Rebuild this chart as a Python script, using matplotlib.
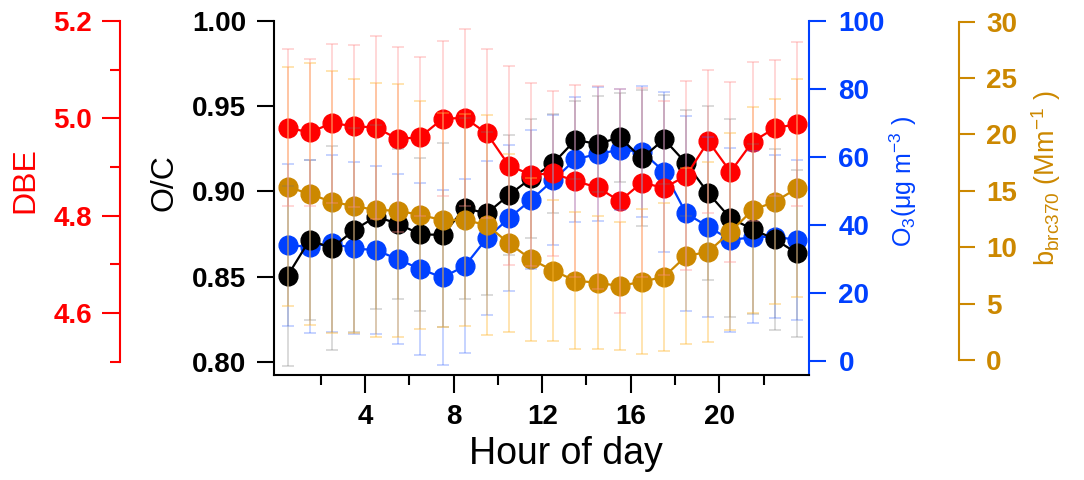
import matplotlib
matplotlib.use('Agg')
import matplotlib.pyplot as plt

plt.rcParams['font.family'] = ['Liberation Sans', 'DejaVu Sans']
plt.rcParams['mathtext.fontset'] = 'custom'
plt.rcParams['mathtext.rm'] = 'Liberation Sans'
plt.rcParams['mathtext.it'] = 'Liberation Sans:italic'
plt.rcParams['mathtext.bf'] = 'Liberation Sans:bold'

# ---------------- data ----------------
hours = [0.5, 1.5, 2.5, 3.5, 4.5, 5.5, 6.5, 7.5, 8.5, 9.5, 10.5, 11.5,
         12.5, 13.5, 14.5, 15.5, 16.5, 17.5, 18.5, 19.5, 20.5, 21.5, 22.5, 23.5]

oc = [0.8504, 0.8715, 0.8666, 0.8773, 0.8852, 0.8809, 0.8748, 0.8744, 0.8901, 0.8871, 0.8979, 0.9077,
      0.9165, 0.9302, 0.9278, 0.9317, 0.9194, 0.9306, 0.9165, 0.8989, 0.8842, 0.8778, 0.8719, 0.8637]
oc_sd = [0.053, 0.047, 0.060, 0.060, 0.054, 0.044, 0.045, 0.054, 0.053, 0.048, 0.035, 0.035,
         0.029, 0.023, 0.028, 0.026, 0.040, 0.026, 0.031, 0.051, 0.058, 0.050, 0.053, 0.049]

dbe = [4.981, 4.971, 4.990, 4.984, 4.981, 4.957, 4.962, 4.999, 5.001, 4.969, 4.903, 4.884,
       4.887, 4.871, 4.858, 4.830, 4.868, 4.857, 4.882, 4.953, 4.890, 4.952, 4.980, 4.988]
dbe_sd = [0.161, 0.151, 0.163, 0.166, 0.188, 0.190, 0.163, 0.159, 0.182, 0.173, 0.205, 0.188,
          0.169, 0.197, 0.208, 0.230, 0.195, 0.178, 0.194, 0.147, 0.185, 0.163, 0.140, 0.168]

o3 = [34.1, 33.6, 34.6, 33.1, 32.6, 29.9, 27.0, 24.6, 27.9, 36.1, 42.0, 47.4,
      53.2, 59.3, 60.9, 62.1, 61.6, 55.7, 43.4, 39.5, 35.6, 36.4, 36.6, 35.6]
o3_sd = [23.8, 25.5, 26.0, 25.3, 24.8, 25.0, 25.3, 25.7, 25.5, 22.7, 21.4, 20.4,
         19.1, 18.4, 19.8, 17.8, 19.3, 23.5, 28.7, 26.5, 27.0, 25.3, 24.1, 23.5]

bbrc = [15.36, 14.72, 14.03, 13.65, 13.30, 13.24, 12.85, 12.41, 12.41, 11.97, 10.35, 8.93,
        7.92, 7.03, 6.85, 6.56, 6.94, 7.38, 9.22, 9.60, 11.37, 13.30, 14.03, 15.22]
bbrc_sd = [10.58, 11.59, 11.64, 11.23, 11.23, 11.23, 10.14, 9.46, 9.37, 9.75, 7.89, 7.24,
           6.27, 6.06, 5.88, 5.65, 6.41, 6.56, 7.80, 7.98, 8.72, 9.10, 9.07, 9.66]

x_major = [4, 8, 12, 16, 20]
x_minor = [2, 6, 10, 14, 18, 22]
oc_ticks = [0.80, 0.85, 0.90, 0.95, 1.00]
dbe_ticks = [4.6, 4.8, 5.0, 5.2]
dbe_minor = [4.5, 4.7, 4.9, 5.1]
o3_ticks = [0, 20, 40, 60, 80, 100]
bbrc_ticks = [0, 5, 10, 15, 20, 25, 30]

# ---------------- style ----------------
RED = '#FF0000'
BLACK = '#000000'
BLUE = '#0040FF'
BROWN = '#CC8800'
ERR = {'red': (1.0, 0.55, 0.55, 0.40), 'black': (0.45, 0.45, 0.45, 0.30),
       'blue': (0.25, 0.42, 1.0, 0.35), 'brown': (1.0, 0.72, 0.20, 0.45)}

W, H = 1084, 480
L, R, T, B = 274, 809.3, 21, 375
fig = plt.figure(figsize=(W / 100, H / 100), dpi=100)
fig.patch.set_facecolor('white')
ax = fig.add_axes([L / W, 1 - B / H, (R - L) / W, (B - T) / H])
ax_blue = ax.twinx()
ax_brown = ax.twinx()
ax_red = ax.twinx()

XLIM = (-0.11, 24.06)
YL_OC = (0.7922, 1.0)
YL_DBE = (4.4726, 5.2)
YL_O3 = (-4.12, 100.0)
YL_B = (-1.33, 30.06)

ax.set_xlim(*XLIM)
for a in (ax, ax_blue, ax_brown, ax_red):
    a.patch.set_visible(False)
    for s in a.spines.values():
        s.set_visible(False)
        s.set_linewidth(1.5)

ax.set_zorder(2)
ax_blue.set_zorder(1)
ax_brown.set_zorder(3)
ax_red.set_zorder(4)

MS = 13.5
LW = 1.6

# main: O/C
ax.set_ylim(*YL_OC)
ax.plot(hours, oc, '-o', color=BLACK, ms=MS, lw=LW, mec=BLACK, zorder=3)
ax.spines['left'].set_visible(True)
ax.spines['bottom'].set_visible(True)
ax.set_yticks(oc_ticks, ['%.2f' % v for v in oc_ticks], fontsize=20, fontweight='bold')
ax.tick_params(axis='y', length=12, width=1.5, pad=8)
ax.set_xticks(x_major, [str(v) for v in x_major], fontsize=20, fontweight='bold')
ax.set_xticks(x_minor, minor=True)
ax.tick_params(axis='x', which='major', length=13, width=1.5, pad=8)
ax.tick_params(axis='x', which='minor', length=7.2, width=1.5)

# blue: O3
ax_blue.set_ylim(*YL_O3)
ax_blue.plot(hours, o3, '-o', color=BLUE, ms=MS, lw=LW, mec=BLUE, zorder=3)
ax_blue.spines['right'].set_visible(True)
ax_blue.spines['right'].set_color(BLUE)
ax_blue.set_yticks(o3_ticks, [str(v) for v in o3_ticks], fontsize=20, fontweight='bold', color=BLUE)
ax_blue.tick_params(axis='y', length=12, width=1.5, pad=9, color=BLUE)

# brown: b_brc370
ax_brown.set_ylim(*YL_B)
ax_brown.plot(hours, bbrc, '-o', color=BROWN, ms=MS, lw=LW, mec=BROWN, zorder=3)
sp = ax_brown.spines['right']
sp.set_visible(True)
sp.set_position(('axes', (959 - L) / (R - L)))
sp.set_color(BROWN)
sp.set_bounds(0, 30)
ax_brown.set_yticks(bbrc_ticks, [str(v) for v in bbrc_ticks], fontsize=20, fontweight='bold', color=BROWN)
ax_brown.tick_params(axis='y', length=11.5, width=1.5, pad=8, color=BROWN)

# red: DBE
ax_red.set_ylim(*YL_DBE)
ax_red.plot(hours, dbe, '-o', color=RED, ms=MS, lw=LW, mec=RED, zorder=3)
sp = ax_red.spines['left']
sp.set_visible(True)
sp.set_position(('axes', (120 - L) / (R - L)))
sp.set_color(RED)
sp.set_bounds(4.5, 5.2)
ax_red.yaxis.set_ticks_position('left')
ax_red.yaxis.set_label_position('left')
ax_red.set_yticks(dbe_ticks, ['%.1f' % v for v in dbe_ticks], fontsize=20, fontweight='bold', color=RED)
ax_red.set_yticks(dbe_minor, minor=True)
ax_red.tick_params(axis='y', which='major', length=13, width=1.5, pad=7, color=RED)
ax_red.tick_params(axis='y', which='minor', length=7, width=1.5, color=RED)

# error bars on overlay axes (drawn above all markers)
for vals, sds, ylim, key in [(o3, o3_sd, YL_O3, 'blue'), (oc, oc_sd, YL_OC, 'black'),
                             (bbrc, bbrc_sd, YL_B, 'brown'), (dbe, dbe_sd, YL_DBE, 'red')]:
    ae = ax.twinx()
    ae.set_zorder(6)
    ae.patch.set_visible(False)
    ae.set_ylim(*ylim)
    ae.axis('off')
    ae.errorbar(hours, vals, yerr=sds, fmt='none', ecolor=ERR[key], elinewidth=1.2,
                capsize=4.5, capthick=1.2)
    ae.set_ylim(*ylim)

ax.set_xlim(*XLIM)

# axis titles
fig.text(25 / W, 1 - 180 / H, 'DBE', color=RED, fontsize=23, rotation=90, ha='center', va='center')
fig.text(165 / W, 1 - 182.5 / H, 'O/C', color=BLACK, fontsize=23, rotation=90, ha='center', va='center')
fig.text(903.5 / W, 1 - 181.5 / H, 'O$_3$(μg m$^{-3}$ )', color=BLUE, fontsize=18, rotation=90,
         ha='center', va='center')
fig.text(1046 / W, 1 - 178.5 / H, 'b$_{\\mathrm{brc370}}$ (Mm$^{-1}$ )', color=BROWN, fontsize=19.5,
         rotation=90, ha='center', va='center')
fig.text(566 / W, 1 - 453.8 / H, 'Hour of day', color=BLACK, fontsize=27, ha='center', va='center')

fig.savefig('out.png', dpi=100)
